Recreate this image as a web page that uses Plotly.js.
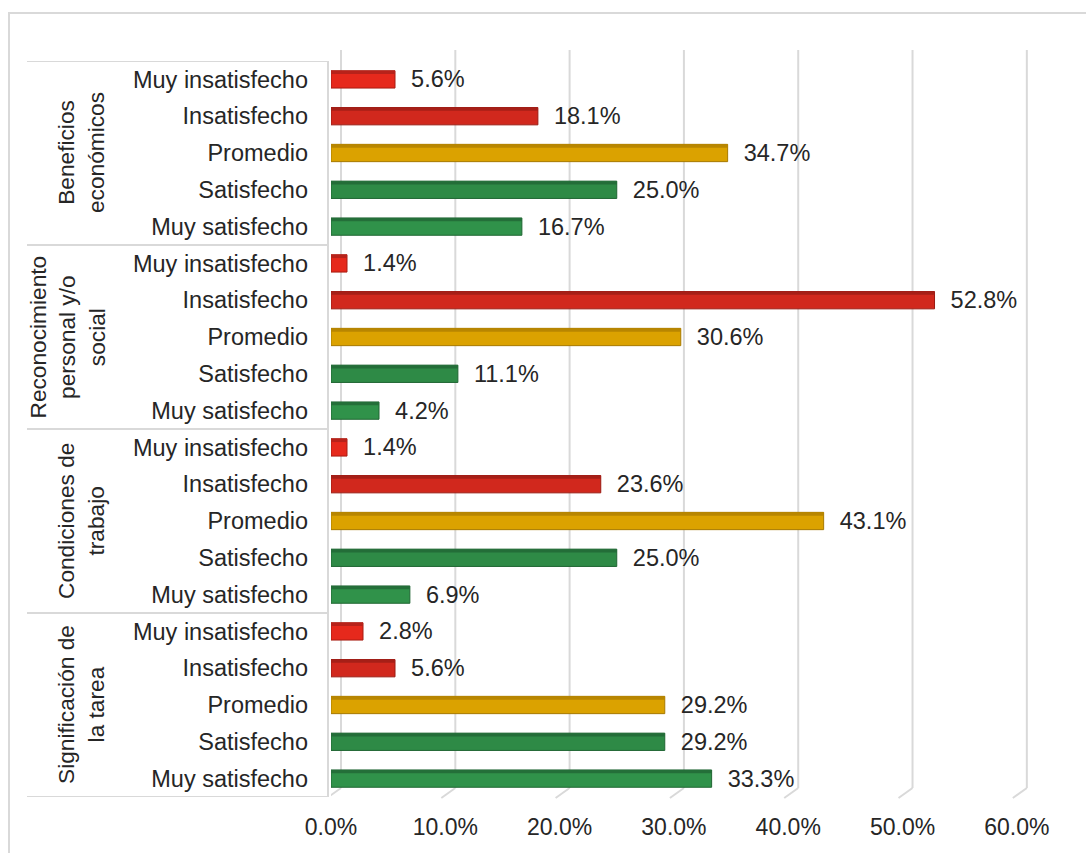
<!DOCTYPE html>
<html>
<head>
<meta charset="utf-8">
<script src="https://cdn.plot.ly/plotly-3.0.1.min.js"></script>
<style>
  html, body { margin: 0; padding: 0; background: #ffffff; }
  #chart { width: 1086px; height: 853px; }
</style>
</head>
<body>
<div id="chart"></div>
<script>
// ---- data ----
const groups = ['Beneficios<br>económicos', 'Reconocimiento<br>personal y/o<br>social', 'Condiciones de<br>trabajo', 'Significación de<br>la tarea'];
const levels = ['Muy insatisfecho', 'Insatisfecho', 'Promedio', 'Satisfecho', 'Muy satisfecho'];
const beneficios = [5.6, 18.1, 34.7, 25.0, 16.7];
const reconocimiento = [1.4, 52.8, 30.6, 11.1, 4.2];
const condiciones = [1.4, 23.6, 43.1, 25.0, 6.9];
const significacion = [2.8, 5.6, 29.2, 29.2, 33.3];
const xTickVals = [0, 10, 20, 30, 40, 50, 60];
const xTickText = xTickVals.map(v => v.toFixed(1) + '%');

// ---- styling ----
const levelColors = ['#e6291c', '#d1281d', '#dba200', '#2e8a46', '#30924a'];
const levelLines = ['#a81c12', '#9a1a12', '#a77a00', '#1f6532', '#1f6532'];
const levelTops = ['#b8221a', '#a61f17', '#b88600', '#236d38', '#246f39'];
const gridColor = '#d9d9d9';
const txtColor = '#262626';
const FONT = 'Liberation Sans, Arial, sans-serif';

// layout geometry (pixels)
const W = 1086, H = 853;
const L = 331, R = 1031, T = 61, B = 797;
const pw = R - L, ph = B - T;
const pxX = px => (px - L) / pw;
const pxY = py => (B - py) / ph;
const xMax = 61.24;
const depth = 0.875; // back-wall offset in data units (3D look)
const barW = 0.47, topW = 0.09;

const series = [beneficios, reconocimiento, condiciones, significacion];
const yIdx = [], xVals = [], colors = [], lines = [], tops = [], tickText = [];
series.forEach((vals, g) => {
  vals.forEach((v, i) => {
    yIdx.push(g * levels.length + i);
    xVals.push(v);
    colors.push(levelColors[i]);
    lines.push(levelLines[i]);
    tops.push(levelTops[i]);
    tickText.push(levels[i]);
  });
});

const trace = {
  type: 'bar',
  orientation: 'h',
  x: xVals,
  y: yIdx,
  width: barW,
  offset: -barW / 2,
  marker: { color: colors, line: { color: lines, width: 1 } },
  text: xVals.map(v => v.toFixed(1) + '%'),
  texttemplate: '\u00A0\u00A0%{text}',
  textposition: 'outside',
  constraintext: 'none',
  cliponaxis: false,
  textfont: { family: FONT, size: 23.5, color: txtColor },
  hoverinfo: 'skip'
};

// darker top face strip for a 3D look
const topFace = {
  type: 'bar',
  orientation: 'h',
  x: xVals,
  y: yIdx,
  width: topW,
  offset: -barW / 2,
  marker: { color: tops, line: { width: 0 } },
  hoverinfo: 'skip'
};

const shapes = [];
// gridlines on the back wall with a small floor diagonal
xTickVals.forEach(v => {
  shapes.push({ type: 'line', xref: 'x', yref: 'paper', x0: v + depth, x1: v + depth,
    y0: pxY(788), y1: pxY(50), line: { color: gridColor, width: 2 }, layer: 'below' });
  shapes.push({ type: 'line', xref: 'x', yref: 'paper', x0: v + depth, x1: v - 0.35,
    y0: pxY(788), y1: pxY(798), line: { color: gridColor, width: 2 }, layer: 'below' });
});
// category box: group separators + right line
const nL = levels.length;
for (let g = 0; g <= groups.length; g++) {
  shapes.push({ type: 'line', xref: 'paper', yref: 'y', x0: pxX(27), x1: pxX(328),
    y0: g * nL - 0.5, y1: g * nL - 0.5, line: { color: gridColor, width: 2 } });
}
shapes.push({ type: 'line', xref: 'paper', yref: 'y', x0: pxX(328), x1: pxX(328),
  y0: -0.5, y1: groups.length * nL - 0.5, line: { color: gridColor, width: 2 } });
// outer chart frame
shapes.push({ type: 'rect', xref: 'paper', yref: 'paper', x0: pxX(9), x1: pxX(1100),
  y0: pxY(870), y1: pxY(13), line: { color: gridColor, width: 2 } });

const annotations = groups.map((g, k) => ({
  text: g,
  xref: 'paper', yref: 'y',
  x: pxX(111), y: k * nL + (nL - 1) / 2,
  xanchor: 'right', yanchor: 'middle',
  textangle: -90,
  showarrow: false,
  align: 'center',
  font: { family: FONT, size: 22.7, color: txtColor }
}));

const layout = {
  width: W, height: H,
  margin: { l: L, r: W - R, t: T, b: H - B, pad: 0 },
  paper_bgcolor: '#ffffff',
  plot_bgcolor: 'rgba(0,0,0,0)',
  showlegend: false,
  barmode: 'overlay',
  font: { family: FONT, size: 22, color: txtColor },
  xaxis: {
    range: [0, xMax],
    tickmode: 'array',
    tickvals: xTickVals,
    ticktext: xTickText,
    showgrid: false, zeroline: false, showline: false,
    ticks: '',
    ticklabelstandoff: 14,
    tickfont: { family: FONT, size: 23, color: txtColor },
    fixedrange: true
  },
  yaxis: {
    range: [groups.length * nL - 0.5, -0.5],
    tickmode: 'array',
    tickvals: yIdx,
    ticktext: tickText,
    showgrid: false, zeroline: false, showline: false,
    ticks: '',
    ticklabelstandoff: 22,
    tickfont: { family: FONT, size: 23.5, color: txtColor },
    fixedrange: true
  },
  shapes: shapes,
  annotations: annotations
};

Plotly.newPlot('chart', [trace, topFace], layout, { staticPlot: true, displayModeBar: false });
</script>
</body>
</html>
